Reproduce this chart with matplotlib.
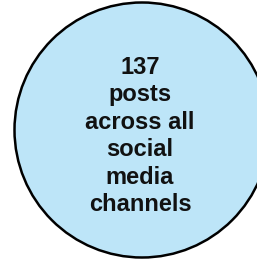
import matplotlib.pyplot as plt
from matplotlib.patches import Circle

# Data
post_count = 137
label_lines = ["posts", "across all", "social", "media", "channels"]

fig = plt.figure(figsize=(2.57, 2.59), dpi=100)
ax = fig.add_axes([0, 0, 1, 1])
ax.set_xlim(0, 257)
ax.set_ylim(259, 0)
ax.axis("off")

ax.add_patch(Circle((142, 130), 127.5, facecolor="#BDE5F8",
                    edgecolor="black", linewidth=1.8))

text = "\n".join([str(post_count)] + label_lines)
ax.text(140, 136, text, ha="center", va="center", fontsize=17,
        fontweight="bold", family="Liberation Sans", linespacing=1.25,
        color="#111111")

fig.savefig("out.png", dpi=100)
